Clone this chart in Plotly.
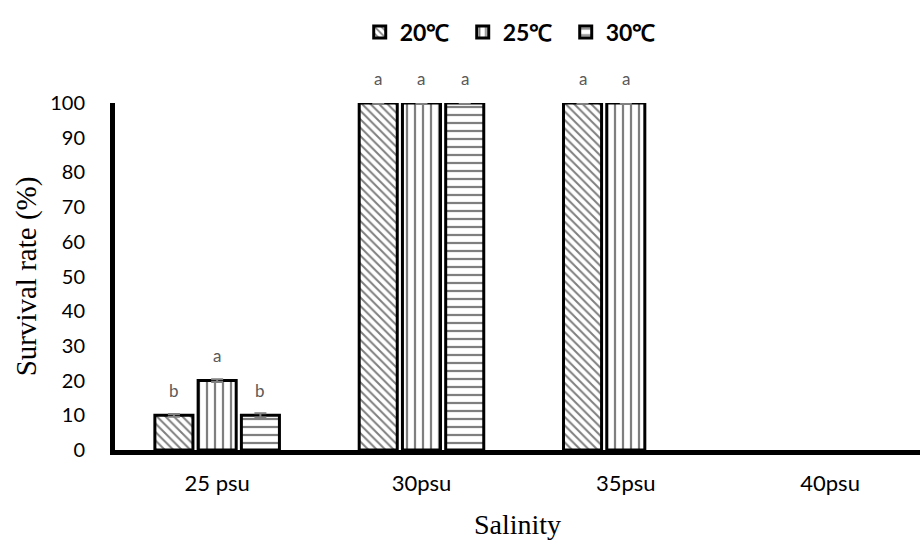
import plotly.graph_objects as go

categories = ["25 psu", "30psu", "35psu", "40psu"]
series_names = ["20\u2103", "25\u2103", "30\u2103"]
v20 = [10, 100, 100, 0]
v25 = [20, 100, 100, 0]
v30 = [10, 100, 0, 0]
# error bars only where a bar is drawn (shorter arrays -> no bar at remaining points)
err20 = [0.4, 0.3, 0.3]
err25 = [0.4, 0.3, 0.3]
err30 = [0.6, 0.3]
letters20 = ["b", "a", "a", ""]
letters25 = ["a", "a", "a", ""]
letters30 = ["b", "a", "", ""]
y_ticks = list(range(0, 101, 10))

values = [v20, v25, v30]
errors = [err20, err25, err30]
letters = [letters20, letters25, letters30]
patterns = [("\\", 6, 0.33), ("|", 8, 0.28), ("-", 8, 0.28)]

BARGAP = 0.365
BARGROUPGAP = 0.12
sans = "Lato, Open Sans, sans-serif"
serif = "Liberation Serif, Times New Roman, serif"

fig = go.Figure()
for name, vals, errs, (shape, psize, sol) in zip(series_names, values, errors, patterns):
    fig.add_trace(go.Bar(
        x=categories, y=vals, name=name,
        marker=dict(color="white",
                    line=dict(color="black", width=[3 if v else 0 for v in vals]),
                    pattern=dict(shape=shape, fgcolor="black", bgcolor="white",
                                 size=psize, solidity=sol)),
        error_y=dict(type="data", array=errs, visible=True, color="#808080",
                     thickness=2, width=6),
        cliponaxis=False,
    ))

n = len(series_names)
slot = (1 - BARGAP) / n
annotations = []
for i, labs in enumerate(letters):
    for ci, lab in enumerate(labs):
        if not lab:
            continue
        annotations.append(dict(
            x=ci + (i - (n - 1) / 2) * slot, y=values[i][ci], xref="x", yref="y",
            text=lab, showarrow=False, yanchor="middle", yshift=25,
            font=dict(family=sans, size=17, color="#595959")))

fig.update_layout(
    width=920, height=540,
    plot_bgcolor="white", paper_bgcolor="white",
    barmode="group", bargap=BARGAP, bargroupgap=BARGROUPGAP,
    margin=dict(l=115, r=0, t=103, b=90, autoexpand=False),
    annotations=annotations,
    legend=dict(orientation="h", x=0.391, xref="container", xanchor="left",
                y=1 - 32 / 540, yref="container", yanchor="middle",
                font=dict(family=sans, size=23, color="black", weight="bold"),
                itemwidth=30, entrywidth=58, traceorder="normal"),
    xaxis=dict(range=[-0.5, 3.44], showline=True, linecolor="black", linewidth=5,
               ticks="outside", ticklen=10, tickcolor="rgba(0,0,0,0)",
               tickfont=dict(family=sans, size=22, color="black"),
               title=dict(text="Salinity", font=dict(family=serif, size=28, color="black"),
                          standoff=20),
               showgrid=False, zeroline=False),
    yaxis=dict(range=[0, 100], tickvals=y_ticks, showline=True, linecolor="black",
               linewidth=5, ticks="outside", ticklen=21, tickcolor="rgba(0,0,0,0)",
               tickfont=dict(family=sans, size=20, color="black"),
               title=dict(text="Survival rate (%)", font=dict(family=serif, size=29, color="black"),
                          standoff=7),
               showgrid=False, zeroline=False),
)

fig.write_html("out.html", config={"displayModeBar": False},
               post_script="document.body.style.margin='0';")
